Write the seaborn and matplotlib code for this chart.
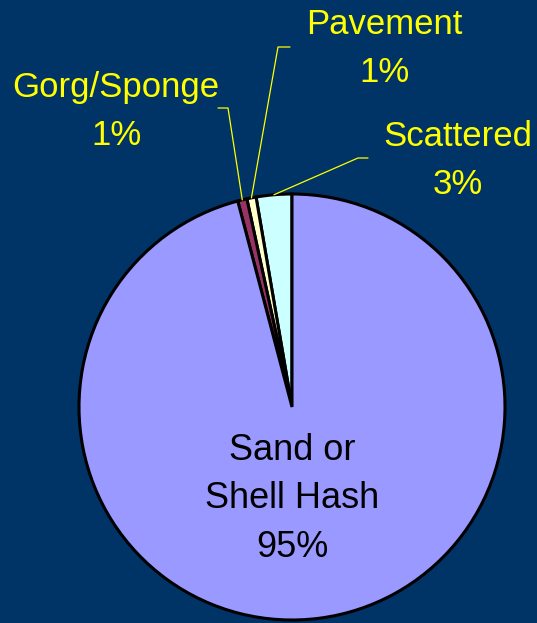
import matplotlib
matplotlib.use("Agg")
import matplotlib.pyplot as plt
import seaborn as sns
import numpy as np

# dados
categorias = ["Scattered", "Pavement", "Gorg/Sponge", "Sand or\nShell Hash"]
valores = [2.7, 0.7, 0.7, 95.9]
rotulos_pct = ["3%", "1%", "1%", "95%"]
cores = ["#CCFFFF", "#FFFFCC", "#993366", "#9999FF"]

FUNDO = "#003366"
AMARELO = "#FFFF00"

sns.set_theme(style="white")
plt.rcParams["font.family"] = ["Liberation Sans", "DejaVu Sans"]

W, H = 537, 623
CX, CY, R = 292, 407, 213  # pixels (topo = 0)


def px(x, y):
    # converte pixel da imagem para coordenadas do eixo
    return (x - CX) / R, (CY - y) / R


fig = plt.figure(figsize=(W / 100, H / 100), dpi=100, facecolor=FUNDO)
ax = fig.add_axes([0, 0, 1, 1])
ax.set_facecolor(FUNDO)

wedges, _ = ax.pie(valores, colors=cores, startangle=90, counterclock=True,
                   radius=1, wedgeprops=dict(edgecolor="black", linewidth=2.2))

# limites depois do pie (o pie redefine xlim/ylim)
x0, y1 = px(0, 0)
x1, y0 = px(W, H)
ax.set_xlim(x0, x1)
ax.set_ylim(y0, y1)
ax.set_aspect("equal", adjustable="datalim")
ax.axis("off")

# rotulos externos: centro do nome, inicio e cotovelo da linha guia
externos = {
    0: ((458, 137), (368, 158), (358, 158)),
    1: ((384, 25), (290, 47), (278, 47)),
    2: ((116, 88), (218, 108), (228, 108)),
}
for i, (txt, ini, cot) in externos.items():
    w = wedges[i]
    ang = np.deg2rad((w.theta1 + w.theta2) / 2)
    fim = (np.cos(ang), np.sin(ang))
    a = px(*ini)
    b = px(*cot)
    ax.plot([a[0], b[0], fim[0]], [a[1], b[1], fim[1]], color=AMARELO, lw=0.9, zorder=5)
    tx, ty = px(*txt)
    ax.text(tx, ty, categorias[i], color=AMARELO, fontsize=25,
            ha="center", va="center")
    ax.text(tx, ty - 48 / R, rotulos_pct[i], color=AMARELO, fontsize=25,
            ha="center", va="center")

tx, ty = px(292, 499)
ax.text(tx, ty, categorias[3] + "\n" + rotulos_pct[3], color="black", fontsize=26,
        ha="center", va="center", linespacing=1.5)

fig.savefig("out.png", dpi=100, facecolor=FUNDO)
plt.close()
